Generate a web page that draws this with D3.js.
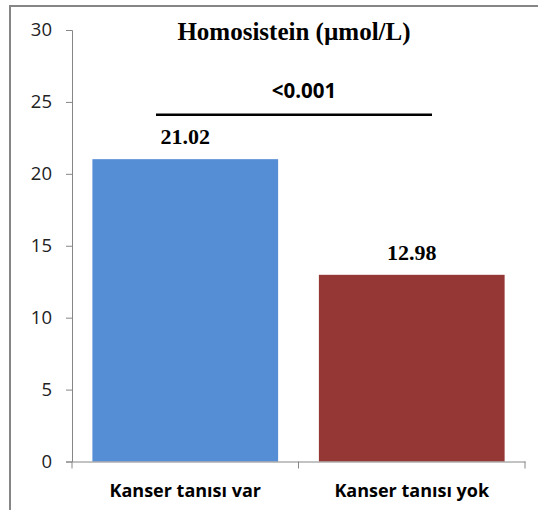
<!DOCTYPE html>
<html>
<head>
<meta charset="utf-8">
<script src="https://cdn.jsdelivr.net/npm/d3@7"></script>
<style>
  body { margin: 0; background: #fff; }
</style>
</head>
<body>
<svg class="chart" width="538" height="510"></svg>
<script>
// data
var categories = ["Kanser tanısı var", "Kanser tanısı yok"];
var values = [21.02, 12.98];
var valueLabels = ["21.02", "12.98"];
var barColors = ["#558ed5", "#953735"];
var yTicks = [0, 5, 10, 15, 20, 25, 30];
var titleText = "Homosistein (µmol/L)";
var pText = "<0.001";

var svg = d3.select(".chart");

// frame (top and left border only)
svg.append("line")
    .attr("x1", 9).attr("x2", 538).attr("y1", 6).attr("y2", 6)
    .attr("stroke", "#868686").attr("stroke-width", 2);
svg.append("line")
    .attr("x1", 10).attr("x2", 10).attr("y1", 5).attr("y2", 510)
    .attr("stroke", "#868686").attr("stroke-width", 2);

var x = d3.scaleBand()
    .domain(categories)
    .range([72, 525])
    .paddingInner(0.18)
    .paddingOuter(0.09);

var y = d3.scaleLinear()
    .domain([0, 30])
    .range([461.5, 30]);

// y axis
var yAxis = svg.append("g")
    .attr("transform", "translate(72,0)")
    .call(d3.axisLeft(y).tickValues(yTicks).tickSize(6).tickPadding(14));
yAxis.select(".domain").attr("stroke", "#868686");
yAxis.selectAll(".tick line").attr("stroke", "#868686");
yAxis.selectAll("text")
    .style("font-family", "'Open Sans', 'DejaVu Sans', sans-serif")
    .style("font-size", "18.5px")
    .attr("fill", "#222");

// bars
svg.selectAll(".bar")
    .data(values)
    .enter().append("rect")
    .attr("class", "bar")
    .attr("x", function(d, i) { return x(categories[i]); })
    .attr("width", x.bandwidth())
    .attr("y", function(d) { return y(d); })
    .attr("height", function(d) { return y(0) - y(d); })
    .attr("fill", function(d, i) { return barColors[i]; });

// x axis
var xAxis = svg.append("g")
    .attr("transform", "translate(0," + y(0) + ")")
    .call(d3.axisBottom(x).tickSize(0).tickPadding(0).tickSizeOuter(0));
xAxis.select(".domain").attr("stroke", "#868686");
xAxis.selectAll("text")
    .attr("dy", null)
    .attr("y", 35.5)
    .style("font-family", "'Open Sans', 'DejaVu Sans', sans-serif")
    .style("font-size", "18px")
    .style("font-weight", "bold")
    .attr("fill", "#000");
// category boundary ticks
var bounds = [72, x(categories[1]) - x.step() * x.paddingInner() / 2, 525];
svg.selectAll(".xtick")
    .data(bounds)
    .enter().append("line")
    .attr("x1", function(d) { return d; })
    .attr("x2", function(d) { return d; })
    .attr("y1", y(0))
    .attr("y2", y(0) + 7)
    .attr("stroke", "#868686");

// value labels
svg.selectAll(".vlabel")
    .data(values)
    .enter().append("text")
    .attr("x", function(d, i) { return x(categories[i]) + x.bandwidth() / 2; })
    .attr("y", function(d) { return y(d) - 15; })
    .attr("text-anchor", "middle")
    .style("font-family", "'Liberation Serif', 'DejaVu Serif', serif")
    .style("font-size", "22px")
    .style("font-weight", "bold")
    .text(function(d, i) { return valueLabels[i]; });

// title
svg.append("text")
    .attr("x", 294)
    .attr("y", 40)
    .attr("text-anchor", "middle")
    .style("font-family", "'Liberation Serif', 'DejaVu Serif', serif")
    .style("font-size", "25px")
    .style("font-weight", "bold")
    .text(titleText);

// significance bracket
svg.append("line")
    .attr("x1", 156).attr("x2", 432)
    .attr("y1", y(24.1)).attr("y2", y(24.1))
    .attr("stroke", "#000").attr("stroke-width", 2.5);
svg.append("text")
    .attr("x", 304)
    .attr("y", 98)
    .attr("text-anchor", "middle")
    .style("font-family", "'Open Sans', 'DejaVu Sans', sans-serif")
    .style("font-size", "20.5px")
    .style("font-weight", "bold")
    .text(pText);
</script>
</body>
</html>
